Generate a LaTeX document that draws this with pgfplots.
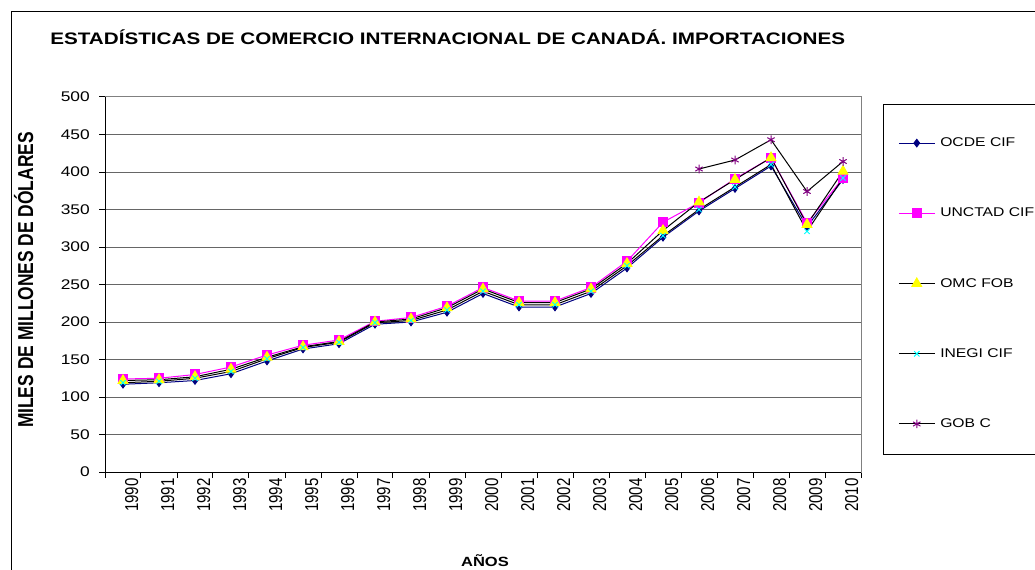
\documentclass[border=0pt]{standalone}
\usepackage{fontspec}
\setmainfont{Liberation Sans}[FakeStretch=1.24]
\newfontfamily\rotfont{Liberation Sans}[FakeStretch=0.806]
\usepackage{pgfplots}
\pgfplotsset{compat=1.18}
\definecolor{cnavy}{RGB}{0,0,128}
\definecolor{cmag}{RGB}{255,0,255}
\definecolor{cyel}{RGB}{255,255,0}
\definecolor{ccyan}{RGB}{0,255,255}
\definecolor{cpurp}{RGB}{128,0,128}
\begin{document}
\begin{tikzpicture}
\useasboundingbox (0,0) rectangle (776.25pt,426.75pt);
\draw[line width=0.75pt] (8.25pt,-20pt) rectangle (800pt,417.75pt);
\draw[line width=0.75pt] (662.25pt,86.25pt) rectangle (800pt,348pt);
\node[anchor=base west, inner sep=0pt, font=\bfseries\fontsize{12.5}{14}\selectfont] at (37.5pt,393pt) {ESTADÍSTICAS DE COMERCIO INTERNACIONAL DE CANADÁ. IMPORTACIONES};
\node[anchor=base, rotate=90, inner sep=0pt, font=\rotfont\bfseries\fontsize{16.2}{18}\selectfont] at (24.75pt,216.75pt) {MILES DE MILLONES DE DÓLARES};
\node[anchor=base, inner sep=0pt, font=\bfseries\fontsize{10}{12}\selectfont] at (363.75pt,1.7pt) {AÑOS};
\begin{axis}[
  at={(78.75pt,72.75pt)}, anchor=south west,
  scale only axis, width=567pt, height=281.25pt,
  xmin=1989.5, xmax=2010.5, ymin=0, ymax=500,
  xtick={1989.5,1990.5,...,2010.5},
  xticklabels={1990,1991,1992,1993,1994,1995,1996,1997,1998,1999,2000,2001,2002,2003,2004,2005,2006,2007,2008,2009,2010},
  x tick label as interval,
  ytick={0,50,...,500},
  ymajorgrids, grid style={black!60, line width=0.75pt},
  tick align=outside, major tick length=4.5pt, tick pos=left,
  tick style={black, line width=0.75pt},
  axis line style={black!50, line width=0.75pt},
  xticklabel style={rotate=90, anchor=east, inner sep=0pt, yshift=-6.5pt, font=\rotfont\fontsize{14}{14}\selectfont},
  yticklabel style={anchor=east, inner sep=0pt, xshift=-6.75pt, font=\fontsize{10.5}{12}\selectfont},
  /pgf/number format/assume math mode=true,
  legend style={draw=none, fill=none, at={(axis description cs:1.04894,0.8923)}, anchor=north west, inner sep=0pt, row sep=44.5pt, font=\fontsize{9.5}{11}\selectfont, nodes={inner sep=0pt}, /tikz/every odd column/.append style={column sep=3.75pt}},
  legend cell align=left,
  legend image code/.code={\draw[mark repeat=2,mark phase=2,#1] plot coordinates {(0pt,0pt) (13.5pt,0pt) (27pt,0pt)};},
  after end axis/.code={\draw[black, line width=0.75pt] (rel axis cs:0,1) -- (rel axis cs:0,0) -- (rel axis cs:1,0);},
]
\addplot[cnavy, line width=0.75pt, mark=diamond*, mark size=2.8pt, mark options={fill=cnavy, draw=cnavy}] coordinates {
(1990,117) (1991,119) (1992,122) (1993,131) (1994,148) (1995,164) (1996,171) (1997,197) (1998,200) (1999,213) (2000,238) (2001,220) (2002,220) (2003,238) (2004,272) (2005,313) (2006,348) (2007,378) (2008,408) (2009,327) (2010,390)};
\addlegendentry{OCDE CIF}
\addplot[cmag, line width=0.75pt, mark=square*, mark size=3.4pt, mark options={fill=cmag, draw=cmag}] coordinates {
(1990,124) (1991,125) (1992,130) (1993,140) (1994,156) (1995,169) (1996,176) (1997,201) (1998,206) (1999,221) (2000,246) (2001,228) (2002,228) (2003,246) (2004,281) (2005,333) (2006,359) (2007,391) (2008,419) (2009,332) (2010,392)};
\addlegendentry{UNCTAD CIF}
\addplot[black, line width=0.75pt, mark=triangle*, mark size=4.2pt, mark options={fill=cyel, draw=cyel}] coordinates {
(1990,122) (1991,123) (1992,127) (1993,137) (1994,153) (1995,167) (1996,174) (1997,200) (1998,204) (1999,219) (2000,244) (2001,226) (2002,226) (2003,244) (2004,278) (2005,322) (2006,360) (2007,390) (2008,419) (2009,330) (2010,401)};
\addlegendentry{OMC FOB}
\addplot[black, line width=0.75pt, mark=x, mark size=2.8pt, mark options={draw=ccyan, line width=0.75pt}] coordinates {
(1990,119) (1991,121) (1992,125) (1993,134) (1994,151) (1995,166) (1996,173) (1997,199) (1998,202) (1999,216) (2000,241) (2001,223) (2002,223) (2003,241) (2004,275) (2005,315) (2006,350) (2007,380) (2008,410) (2009,321) (2010,392)};
\addlegendentry{INEGI CIF}
\addplot[black, line width=0.75pt, mark=asterisk, mark size=3.2pt, mark options={draw=cpurp, line width=0.75pt}] coordinates {
(2006,404) (2007,416) (2008,443) (2009,374) (2010,414)};
\addlegendentry{GOB C}
\end{axis}
\end{tikzpicture}
\end{document}
